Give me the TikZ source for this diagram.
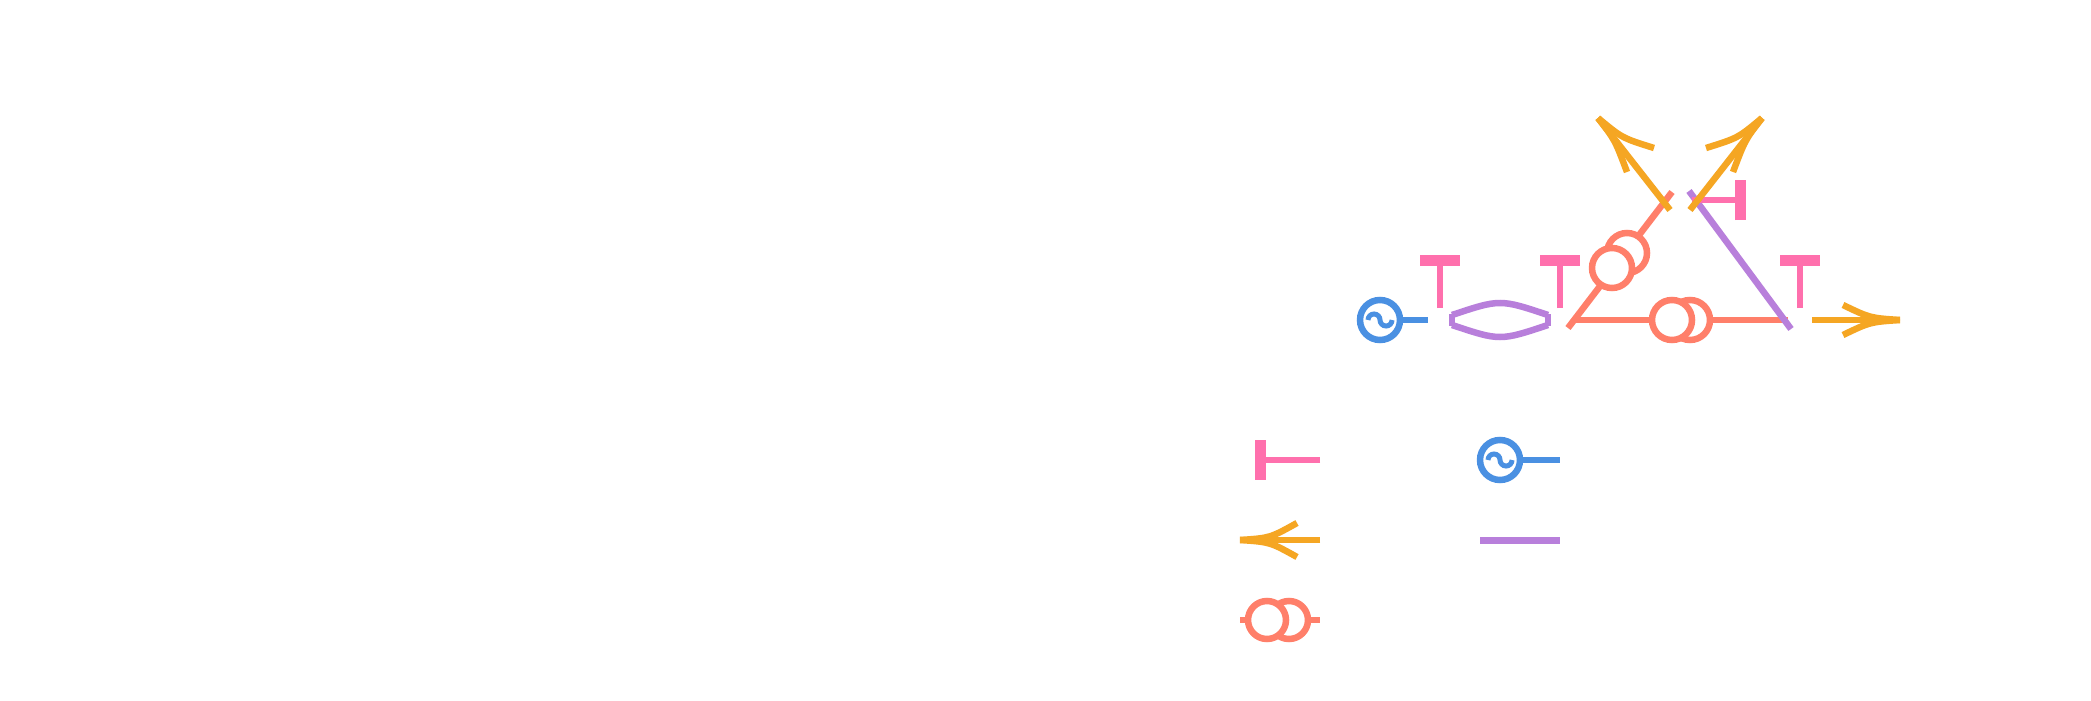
\documentclass[tikz,border=0pt]{standalone}
\definecolor{cblue}{HTML}{4A90E2}
\definecolor{cpurp}{HTML}{B87FDB}
\definecolor{csal}{HTML}{FF7F6A}
\definecolor{cpink}{HTML}{FF70AD}
\definecolor{corg}{HTML}{F5A623}
\begin{document}
\begin{tikzpicture}[x=1pt,y=-1pt,
  ln/.style={line width=6.5pt},
  bar/.style={line width=11pt},
  barb/.style={line width=6.5pt,corg}]
\useasboundingbox[fill=white] (0,0) rectangle (2091,701);
% process nodes
\coordinate (n1) at (1440,320);
\coordinate (n2) at (1560,320);
\coordinate (n3) at (1800,320);
\coordinate (n4) at (1680,200);
% blue symbol left
\coordinate (b1) at (1380,320);
\draw[ln,cblue] (b1) circle (20);
\draw[line width=5pt,cblue] ([xshift=-12pt]b1) arc (180:360:6) arc (180:0:6);
\draw[ln,cblue] ([xshift=20pt]b1) -- ([xshift=-12pt]n1);
% inhibitions below
\foreach \n in {n1,n2,n3}{
  \draw[line width=6pt,cpink] ([yshift=12pt]\n) -- ([yshift=56pt]\n);
  \draw[bar,cpink] ([shift={(-20pt,60pt)}]\n) -- ([shift={(20pt,60pt)}]\n);
}
% purple lens
\draw[ln,cpurp] (1452,315) .. controls (1500,299) .. (1548,315);
\draw[ln,cpurp] (1452,325) .. controls (1500,341) .. (1548,325);
\draw[ln,cpurp] (1452,314) -- (1452,326) (1548,314) -- (1548,326);
% salmon line n2-n3 with double circle
\draw[ln,csal] ([xshift=12pt]n2) -- ([xshift=-12pt]n3);
\draw[ln,csal,fill=white] (1690,320) circle (20);
\draw[ln,csal,fill=white] (1672,320) circle (20);
% salmon diagonal n2-n4
\draw[ln,csal] ([shift={(8pt,-8pt)}]n2) -- ([shift={(-8pt,8pt)}]n4);
\draw[ln,csal,fill=white] (1627,253) circle (20);
\draw[ln,csal,fill=white] (1612,268) circle (20);
% purple n4-n3
\draw[ln,cpurp] ([shift={(9pt,9pt)}]n4) -- ([shift={(-9pt,-9pt)}]n3);
% inhibition right of n4
\draw[line width=6pt,cpink] ([xshift=12pt]n4) -- ([xshift=56pt]n4);
\draw[bar,cpink] ([shift={(60pt,-20pt)}]n4) -- ([shift={(60pt,20pt)}]n4);
% orange arrows from n4
\coordinate (tl) at (1598,118);
\coordinate (tr) at (1762,118);
\draw[barb] ([shift={(-10pt,-10pt)}]n4) -- (tl);
\draw[barb] (1627,172) .. controls (1615,140) .. (tl);
\draw[barb] (1654,148) .. controls (1622,138) .. (tl);
\draw[barb] ([shift={(10pt,-10pt)}]n4) -- (tr);
\draw[barb] (1733,172) .. controls (1745,140) .. (tr);
\draw[barb] (1706,148) .. controls (1738,138) .. (tr);
% orange arrow right of n3
\coordinate (ta) at (1900,320);
\draw[barb] ([xshift=12pt]n3) -- (ta);
\draw[barb] (1843,305) .. controls (1870,318) .. (ta);
\draw[barb] (1843,335) .. controls (1870,322) .. (ta);
% legend
\coordinate (l1) at (1320,460);
\draw[line width=6pt,cpink] (l1) -- (1262,460);
\draw[bar,cpink] (1260,440) -- (1260,480);
\coordinate (l2) at (1320,540);
\coordinate (tb) at (1240,540);
\draw[barb] (l2) -- (tb);
\draw[barb] (1297,523) .. controls (1270,538) .. (tb);
\draw[barb] (1297,557) .. controls (1270,542) .. (tb);
\coordinate (l3) at (1320,620);
\draw[ln,csal] (1240,620) -- (l3);
\draw[ln,csal,fill=white] (1289,620) circle (19);
\draw[ln,csal,fill=white] (1267,620) circle (19);
\coordinate (b2) at (1500,460);
\draw[ln,cblue] (b2) circle (20);
\draw[line width=5pt,cblue] ([xshift=-12pt]b2) arc (180:360:6) arc (180:0:6);
\draw[ln,cblue] ([xshift=20pt]b2) -- (1560,460);
\draw[line width=7pt,cpurp] (1480,540) -- (1560,540);
\end{tikzpicture}
\end{document}
